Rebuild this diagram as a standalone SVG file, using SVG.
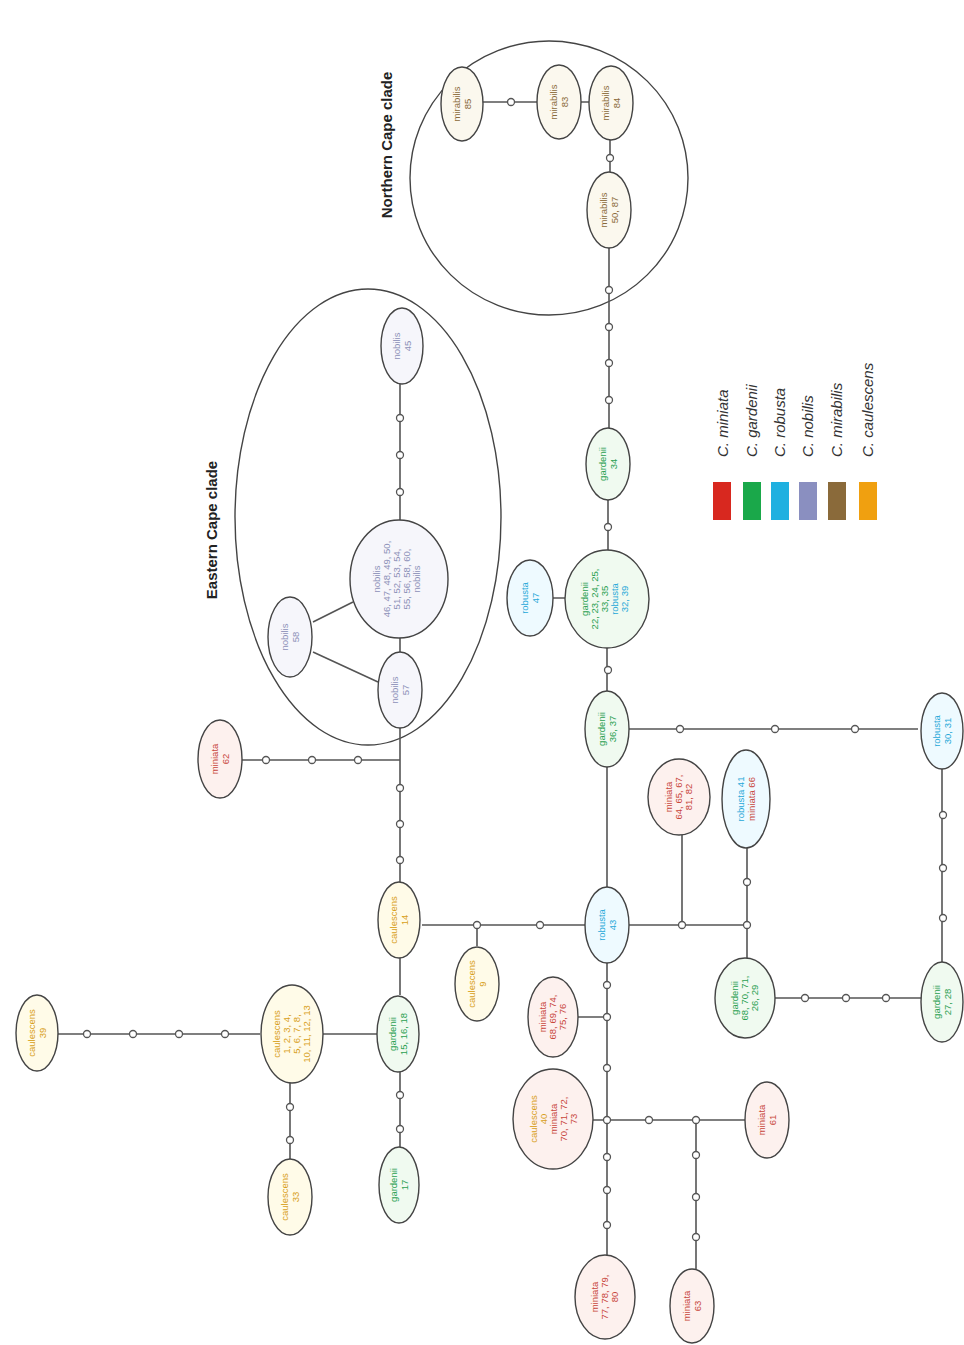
<svg xmlns="http://www.w3.org/2000/svg" width="964" height="1345" viewBox="0 0 964 1345">
<style>
text{font-family:"Liberation Sans",Arial,sans-serif;font-size:9.5px;text-anchor:middle}
.n{stroke:#444;stroke-width:1.4}
.clade{fill:none;stroke:#444;stroke-width:1.4}
.e{stroke:#555;stroke-width:1.6;fill:none}
.d{fill:#fff;stroke:#555;stroke-width:1.3}
.title{font-size:15px;font-weight:bold;fill:#222}
.leg{font-size:15px;fill:#333;text-anchor:start;font-style:italic}
.mi{fill:#c8463c}.ga{fill:#2aa050}.ro{fill:#26a8d8}.no{fill:#8d91b8}.mb{fill:#8a6a3a}.ca{fill:#d8a020}
.fmi{fill:#fdf1ee}.fga{fill:#f0faf0}.fro{fill:#eefaff}.fno{fill:#f6f6fb}.fmb{fill:#fbf8ee}.fca{fill:#fffbe8}
</style>
<rect width="964" height="1345" fill="#fff"/>
<ellipse class="clade" cx="549" cy="178" rx="139" ry="137"/>
<ellipse class="clade" cx="368" cy="517" rx="133" ry="228"/>
<text class="title" transform="translate(392,145) rotate(-90)">Northern Cape clade</text>
<text class="title" transform="translate(217,530) rotate(-90)">Eastern Cape clade</text>
<g id="connectors">
<path class="e" d="M482,102H537M581,102H589M610,140V172M609,248V428M608,500V550M607,648V691M553,598H565M607,767V887M629,729H918M942,769V962M628,925H747M682,925V835M747,925V848M775,998H923M585,925H422M477,925V946M400,883V728M242,760H400M400,652V638M400,384V520M313,622L353,602M313,652L378,682M400,958V995M323,1034H377M58,1034H260M290,1083V1159M400,1072V1147M607,963V1255M578,1017H607M593,1120H745M696,1120V1269M747,925V958"/>
<circle class="d" cx="511" cy="102" r="3.5"/>
<circle class="d" cx="610" cy="158" r="3.5"/>
<circle class="d" cx="609" cy="290" r="3.5"/>
<circle class="d" cx="609" cy="327" r="3.5"/>
<circle class="d" cx="609" cy="363" r="3.5"/>
<circle class="d" cx="609" cy="400" r="3.5"/>
<circle class="d" cx="608" cy="527" r="3.5"/>
<circle class="d" cx="608" cy="670" r="3.5"/>
<circle class="d" cx="680" cy="729" r="3.5"/>
<circle class="d" cx="775" cy="729" r="3.5"/>
<circle class="d" cx="855" cy="729" r="3.5"/>
<circle class="d" cx="943" cy="815" r="3.5"/>
<circle class="d" cx="943" cy="868" r="3.5"/>
<circle class="d" cx="943" cy="918" r="3.5"/>
<circle class="d" cx="682" cy="925" r="3.5"/>
<circle class="d" cx="747" cy="925" r="3.5"/>
<circle class="d" cx="747" cy="882" r="3.5"/>
<circle class="d" cx="805" cy="998" r="3.5"/>
<circle class="d" cx="846" cy="998" r="3.5"/>
<circle class="d" cx="886" cy="998" r="3.5"/>
<circle class="d" cx="540" cy="925" r="3.5"/>
<circle class="d" cx="477" cy="925" r="3.5"/>
<circle class="d" cx="400" cy="860" r="3.5"/>
<circle class="d" cx="400" cy="824" r="3.5"/>
<circle class="d" cx="400" cy="788" r="3.5"/>
<circle class="d" cx="266" cy="760" r="3.5"/>
<circle class="d" cx="312" cy="760" r="3.5"/>
<circle class="d" cx="358" cy="760" r="3.5"/>
<circle class="d" cx="400" cy="418" r="3.5"/>
<circle class="d" cx="400" cy="455" r="3.5"/>
<circle class="d" cx="400" cy="492" r="3.5"/>
<circle class="d" cx="87" cy="1034" r="3.5"/>
<circle class="d" cx="133" cy="1034" r="3.5"/>
<circle class="d" cx="179" cy="1034" r="3.5"/>
<circle class="d" cx="225" cy="1034" r="3.5"/>
<circle class="d" cx="290" cy="1107" r="3.5"/>
<circle class="d" cx="290" cy="1140" r="3.5"/>
<circle class="d" cx="400" cy="1095" r="3.5"/>
<circle class="d" cx="400" cy="1129" r="3.5"/>
<circle class="d" cx="607" cy="985" r="3.5"/>
<circle class="d" cx="607" cy="1017" r="3.5"/>
<circle class="d" cx="607" cy="1068" r="3.5"/>
<circle class="d" cx="607" cy="1120" r="3.5"/>
<circle class="d" cx="649" cy="1120" r="3.5"/>
<circle class="d" cx="696" cy="1120" r="3.5"/>
<circle class="d" cx="607" cy="1157" r="3.5"/>
<circle class="d" cx="607" cy="1190" r="3.5"/>
<circle class="d" cx="607" cy="1225" r="3.5"/>
<circle class="d" cx="696" cy="1155" r="3.5"/>
<circle class="d" cx="696" cy="1197" r="3.5"/>
<circle class="d" cx="696" cy="1237" r="3.5"/>
</g>
<g id="mir85" transform="translate(462,104)"><ellipse class="n fmb" rx="21" ry="37"/><text transform="rotate(-90)" class="mb"><tspan x="0" y="-2">mirabilis</tspan><tspan x="0" y="9">85</tspan></text></g>
<g id="mir83" transform="translate(559,102)"><ellipse class="n fmb" rx="22" ry="37"/><text transform="rotate(-90)" class="mb"><tspan x="0" y="-2">mirabilis</tspan><tspan x="0" y="9">83</tspan></text></g>
<g id="mir84" transform="translate(611,103)"><ellipse class="n fmb" rx="22" ry="37"/><text transform="rotate(-90)" class="mb"><tspan x="0" y="-2">mirabilis</tspan><tspan x="0" y="9">84</tspan></text></g>
<g id="mir5087" transform="translate(609,210)"><ellipse class="n fmb" rx="22" ry="38"/><text transform="rotate(-90)" class="mb"><tspan x="0" y="-2">mirabilis</tspan><tspan x="0" y="9">50, 87</tspan></text></g>
<g id="gar34" transform="translate(608,464)"><ellipse class="n fga" rx="22" ry="36"/><text transform="rotate(-90)" class="ga"><tspan x="0" y="-2">gardenii</tspan><tspan x="0" y="9">34</tspan></text></g>
<g id="rob47" transform="translate(530,598)"><ellipse class="n fro" rx="23" ry="38"/><text transform="rotate(-90)" class="ro"><tspan x="0" y="-2">robusta</tspan><tspan x="0" y="9">47</tspan></text></g>
<g id="gar22" transform="translate(607,599)"><ellipse class="n fga" rx="42" ry="49"/><text transform="rotate(-90)"><tspan x="0" y="-19" class="ga">gardenii</tspan><tspan x="0" y="-9" class="ga">22, 23, 24, 25,</tspan><tspan x="0" y="1" class="ga">33, 35</tspan><tspan x="0" y="11" class="ro">robusta</tspan><tspan x="0" y="21" class="ro">32, 39</tspan></text></g>
<g id="gar3637" transform="translate(607,729)"><ellipse class="n fga" rx="22" ry="38"/><text transform="rotate(-90)" class="ga"><tspan x="0" y="-2">gardenii</tspan><tspan x="0" y="9">36, 37</tspan></text></g>
<g id="rob3031" transform="translate(942,731)"><ellipse class="n fro" rx="21" ry="38"/><text transform="rotate(-90)" class="ro"><tspan x="0" y="-2">robusta</tspan><tspan x="0" y="9">30, 31</tspan></text></g>
<g id="gar2728" transform="translate(942,1002)"><ellipse class="n fga" rx="21" ry="40"/><text transform="rotate(-90)" class="ga"><tspan x="0" y="-2">gardenii</tspan><tspan x="0" y="9">27, 28</tspan></text></g>
<g id="rob43" transform="translate(607,925)"><ellipse class="n fro" rx="22" ry="38"/><text transform="rotate(-90)" class="ro"><tspan x="0" y="-2">robusta</tspan><tspan x="0" y="9">43</tspan></text></g>
<g id="min64" transform="translate(679,797)"><ellipse class="n fmi" rx="31" ry="38"/><text transform="rotate(-90)" class="mi"><tspan x="0" y="-7">miniata</tspan><tspan x="0" y="3">64, 65, 67,</tspan><tspan x="0" y="13">81, 82</tspan></text></g>
<g id="rob41" transform="translate(746,799)"><ellipse class="n fro" rx="24" ry="49"/><text transform="rotate(-90)"><tspan x="0" y="-2" class="ro">robusta 41</tspan><tspan x="0" y="9" class="mi">miniata 66</tspan></text></g>
<g id="gar68" transform="translate(745,998)"><ellipse class="n fga" rx="30" ry="40"/><text transform="rotate(-90)" class="ga"><tspan x="0" y="-7">gardenii</tspan><tspan x="0" y="3">68, 70, 71,</tspan><tspan x="0" y="13">26, 29</tspan></text></g>
<g id="cau14" transform="translate(399,920)"><ellipse class="n fca" rx="21" ry="38"/><text transform="rotate(-90)" class="ca"><tspan x="0" y="-2">caulescens</tspan><tspan x="0" y="9">14</tspan></text></g>
<g id="cau9" transform="translate(477,984)"><ellipse class="n fca" rx="22" ry="37"/><text transform="rotate(-90)" class="ca"><tspan x="0" y="-2">caulescens</tspan><tspan x="0" y="9">9</tspan></text></g>
<g id="min62" transform="translate(220,759)"><ellipse class="n fmi" rx="22" ry="39"/><text transform="rotate(-90)" class="mi"><tspan x="0" y="-2">miniata</tspan><tspan x="0" y="9">62</tspan></text></g>
<g id="nob57" transform="translate(400,690)"><ellipse class="n fno" rx="22" ry="38"/><text transform="rotate(-90)" class="no"><tspan x="0" y="-2">nobilis</tspan><tspan x="0" y="9">57</tspan></text></g>
<g id="nob58" transform="translate(290,637)"><ellipse class="n fno" rx="22" ry="40"/><text transform="rotate(-90)" class="no"><tspan x="0" y="-2">nobilis</tspan><tspan x="0" y="9">58</tspan></text></g>
<g id="nob45" transform="translate(402,346)"><ellipse class="n fno" rx="21" ry="38"/><text transform="rotate(-90)" class="no"><tspan x="0" y="-2">nobilis</tspan><tspan x="0" y="9">45</tspan></text></g>
<g id="nob46" transform="translate(399,579)"><ellipse class="n fno" rx="49" ry="59"/><text transform="rotate(-90)" class="no"><tspan x="0" y="-19">nobilis</tspan><tspan x="0" y="-9">46, 47, 48, 49, 50,</tspan><tspan x="0" y="1">51, 52, 53, 54,</tspan><tspan x="0" y="11">55, 56, 58, 60,</tspan><tspan x="0" y="21">nobilis</tspan></text></g>
<g id="gar15" transform="translate(398,1034)"><ellipse class="n fga" rx="21" ry="38"/><text transform="rotate(-90)" class="ga"><tspan x="0" y="-2">gardenii</tspan><tspan x="0" y="9">15, 16, 18</tspan></text></g>
<g id="cau1" transform="translate(292,1034)"><ellipse class="n fca" rx="31" ry="49"/><text transform="rotate(-90)" class="ca"><tspan x="0" y="-12">caulescens</tspan><tspan x="0" y="-2">1, 2, 3, 4,</tspan><tspan x="0" y="8">5, 6, 7, 8,</tspan><tspan x="0" y="18">10, 11, 12, 13</tspan></text></g>
<g id="cau39" transform="translate(37,1033)"><ellipse class="n fca" rx="21" ry="38"/><text transform="rotate(-90)" class="ca"><tspan x="0" y="-2">caulescens</tspan><tspan x="0" y="9">39</tspan></text></g>
<g id="cau33" transform="translate(290,1197)"><ellipse class="n fca" rx="22" ry="38"/><text transform="rotate(-90)" class="ca"><tspan x="0" y="-2">caulescens</tspan><tspan x="0" y="9">33</tspan></text></g>
<g id="gar17" transform="translate(399,1185)"><ellipse class="n fga" rx="20" ry="38"/><text transform="rotate(-90)" class="ga"><tspan x="0" y="-2">gardenii</tspan><tspan x="0" y="9">17</tspan></text></g>
<g id="min68" transform="translate(553,1017)"><ellipse class="n fmi" rx="25" ry="40"/><text transform="rotate(-90)" class="mi"><tspan x="0" y="-7">miniata</tspan><tspan x="0" y="3">68, 69, 74,</tspan><tspan x="0" y="13">75, 76</tspan></text></g>
<g id="cau40" transform="translate(553,1119)"><ellipse class="n fmi" rx="40" ry="50"/><text transform="rotate(-90)"><tspan x="0" y="-16" class="ca">caulescens</tspan><tspan x="0" y="-6" class="ca">40</tspan><tspan x="0" y="4" class="mi">miniata</tspan><tspan x="0" y="14" class="mi">70, 71, 72,</tspan><tspan x="0" y="24" class="mi">73</tspan></text></g>
<g id="min61" transform="translate(767,1120)"><ellipse class="n fmi" rx="22" ry="38"/><text transform="rotate(-90)" class="mi"><tspan x="0" y="-2">miniata</tspan><tspan x="0" y="9">61</tspan></text></g>
<g id="min77" transform="translate(605,1297)"><ellipse class="n fmi" rx="30" ry="42"/><text transform="rotate(-90)" class="mi"><tspan x="0" y="-7">miniata</tspan><tspan x="0" y="3">77, 78, 79,</tspan><tspan x="0" y="13">80</tspan></text></g>
<g id="min63" transform="translate(692,1306)"><ellipse class="n fmi" rx="22" ry="37"/><text transform="rotate(-90)" class="mi"><tspan x="0" y="-2">miniata</tspan><tspan x="0" y="9">63</tspan></text></g>
<g id="legend">
<rect x="713" y="482" width="18" height="38" fill="#d8281f"/>
<rect x="743" y="482" width="18" height="38" fill="#1aa84a"/>
<rect x="771" y="482" width="18" height="38" fill="#1fb0e0"/>
<rect x="799" y="482" width="18" height="38" fill="#8a8fc0"/>
<rect x="828" y="482" width="18" height="38" fill="#8a6a3a"/>
<rect x="859" y="482" width="18" height="38" fill="#f0a010"/>
<text class="leg" transform="translate(728,457) rotate(-90)">C. miniata</text>
<text class="leg" transform="translate(757,457) rotate(-90)">C. gardenii</text>
<text class="leg" transform="translate(785,457) rotate(-90)">C. robusta</text>
<text class="leg" transform="translate(813,457) rotate(-90)">C. nobilis</text>
<text class="leg" transform="translate(842,457) rotate(-90)">C. mirabilis</text>
<text class="leg" transform="translate(873,457) rotate(-90)">C. caulescens</text>
</g>
</svg>
